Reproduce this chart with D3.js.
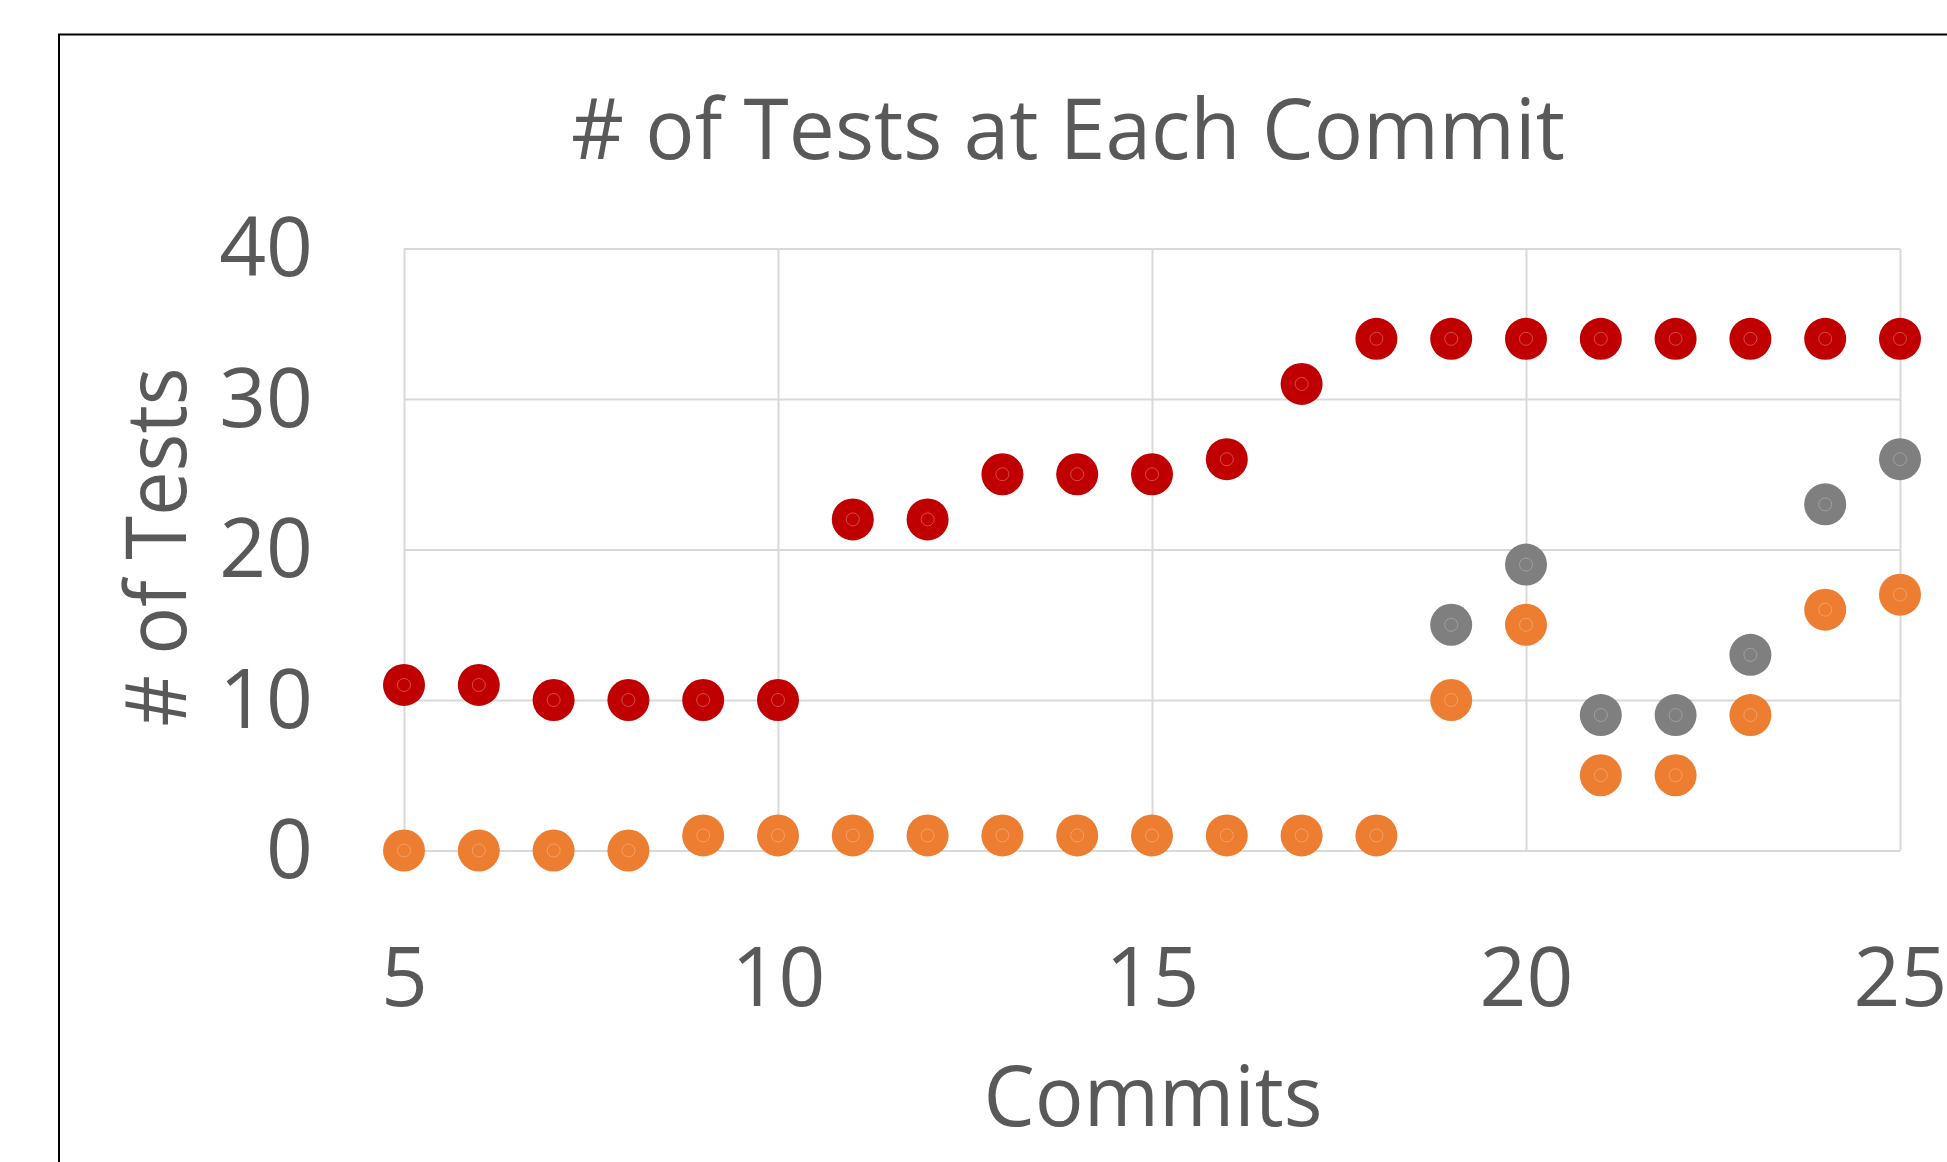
<!DOCTYPE html>
<html><head><meta charset="utf-8">
<script src="https://cdn.jsdelivr.net/npm/d3@7"></script>
<style>body{margin:0;background:#fff;overflow:hidden}</style>
</head><body>
<svg id="c" width="1947" height="1162"></svg>
<script>
const commits = [5,6,7,8,9,10,11,12,13,14,15,16,17,18,19,20,21,22,23,24,25];
const redValues = [11,11,10,10,10,10,22,22,25,25,25,26,31,34,34,34,34,34,34,34,34];
const orangeValues = [0,0,0,0,1,1,1,1,1,1,1,1,1,1,10,15,5,5,9,16,17];
const grayCommits = [19,20,21,22,23,24,25];
const grayValues = [15,19,9,9,13,23,26];
const xTicks = [5,10,15,20,25];
const yTicks = [0,10,20,30,40];

const svg = d3.select("#c");
const W = 1947, H = 1162;
svg.append("rect").attr("width",W).attr("height",H).attr("fill","#fff");
svg.append("rect").attr("x",59).attr("y",34.5).attr("width",2000).attr("height",1200)
  .attr("fill","none").attr("stroke","#000").attr("stroke-width",2);

const x = d3.scaleLinear().domain([5,25]).range([404,1900]);
const y = d3.scaleLinear().domain([0,40]).range([850.5,248.5]);
const font = "'Open Sans', sans-serif";
const txt = "#595959";

const g = svg.append("g");
g.append("g").attr("transform","translate(404,0)")
  .call(d3.axisLeft(y).tickValues(yTicks).tickSize(-(1900-404)).tickFormat(""))
  .call(s=>s.select(".domain").remove())
  .call(s=>s.selectAll("line").attr("stroke","#D9D9D9").attr("stroke-width",2));
g.append("g").attr("transform","translate(0,850.5)")
  .call(d3.axisBottom(x).tickValues(xTicks).tickSize(-(850.5-248.5)).tickFormat(""))
  .call(s=>s.select(".domain").remove())
  .call(s=>s.selectAll("line").attr("stroke","#D9D9D9").attr("stroke-width",2));

const yAx = svg.append("g").attr("transform","translate(313,0)")
  .call(d3.axisLeft(y).tickValues(yTicks).tickSize(0).tickPadding(0));
yAx.select(".domain").remove();
yAx.selectAll("text").attr("fill",txt).attr("font-family",font).attr("font-size",82)
  .attr("dy","0.33em").attr("text-anchor","end");

const xAx = svg.append("g").attr("transform","translate(0,1006)")
  .call(d3.axisBottom(x).tickValues(xTicks).tickSize(0).tickPadding(0));
xAx.select(".domain").remove();
xAx.selectAll("text").attr("fill",txt).attr("font-family",font).attr("font-size",82)
  .attr("dy","0").attr("y",0);

function drawSeries(xs, vs, color, ring){
  const gg = svg.append("g");
  gg.selectAll("circle.m").data(vs).join("circle").attr("class","m")
    .attr("cx",(d,i)=>x(xs[i])).attr("cy",d=>y(d)).attr("r",21).attr("fill",color);
  gg.selectAll("circle.r").data(vs).join("circle").attr("class","r")
    .attr("cx",(d,i)=>x(xs[i])).attr("cy",d=>y(d)).attr("r",6.5)
    .attr("fill","none").attr("stroke",ring).attr("stroke-width",0.8);
}
drawSeries(commits, redValues, "#C00000", "#D95A5A");
drawSeries(commits, orangeValues, "#ED7D31", "#F4A775");
drawSeries(grayCommits, grayValues, "#7F7F7F", "#A6A6A6");

svg.append("text").attr("x",1068).attr("y",159).attr("text-anchor","middle")
  .attr("font-family",font).attr("font-size",84).attr("fill",txt)
  .attr("textLength",994).attr("lengthAdjust","spacingAndGlyphs")
  .text("# of Tests at Each Commit");
svg.append("text").attr("x",1153).attr("y",1126).attr("text-anchor","middle")
  .attr("font-family",font).attr("font-size",85).attr("fill",txt)
  .attr("textLength",339).attr("lengthAdjust","spacingAndGlyphs")
  .text("Commits");
svg.append("text").attr("transform","translate(186,547) rotate(-90)").attr("text-anchor","middle")
  .attr("font-family",font).attr("font-size",85).attr("fill",txt)
  .attr("textLength",359).attr("lengthAdjust","spacingAndGlyphs")
  .text("# of Tests");
</script>
</body></html>
